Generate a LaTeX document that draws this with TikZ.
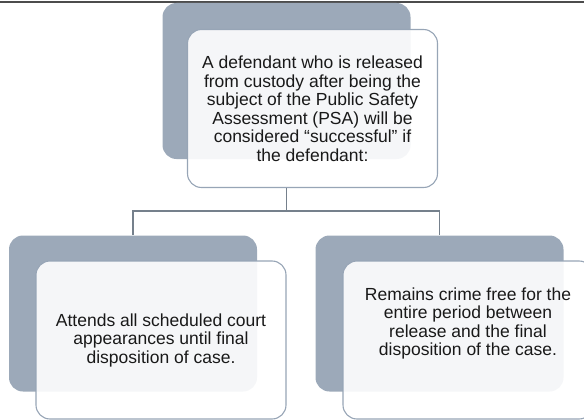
\documentclass[tikz,border=0pt]{standalone}
\usepackage{fontspec}
\setmainfont{Liberation Sans}
\usetikzlibrary{positioning}
\definecolor{slate}{HTML}{9CA9B9}
\definecolor{edgeblue}{HTML}{97A5B6}
\definecolor{linkgray}{HTML}{75808C}

\begin{document}
\begin{tikzpicture}[x=1pt, y=-1pt,
    back/.style={fill=slate, rounded corners=14pt, inner sep=0pt,
        minimum width=248pt, minimum height=156pt},
    front/.style={draw=edgeblue, line width=1.1pt, fill=white, fill opacity=0.9,
        text opacity=1, rounded corners=14pt, inner sep=0pt,
        minimum width=250pt, minimum height=158pt, align=center,
        font=\fontsize{17.5}{18.5}\selectfont, text=black!90},
    link/.style={draw=linkgray, line width=1.2pt}]
    \clip (0,0) rectangle (584,420);
    \draw[line width=1.4pt, black!70] (0,2) -- (584,2);

    \node[back] (topback) at (286.5,81) {};
    \node[front] (top) at (312.5,108.5) {A defendant who is released\\from custody after being the\\subject of the Public Safety\\Assessment (PSA) will be\\considered ``successful'' if\\the defendant:};

    \node[back] (leftback) at (133,313.5) {};
    \node[front] (left) at (161,340) {Attends all scheduled court\\appearances until final\\disposition of case.};

    \node[back] (rightback) at (439.5,313.5) {};
    \node[front] (right) at (468,340) {Remains crime free for the\\entire period between\\release and the final\\disposition of the case.\\[18pt]\mbox{}};

    \draw[link] (topback |- top.south) -- ++(0,23) coordinate (split);
    \draw[link] (split) -| (leftback.north);
    \draw[link] (split) -| (rightback.north);
\end{tikzpicture}
\end{document}
